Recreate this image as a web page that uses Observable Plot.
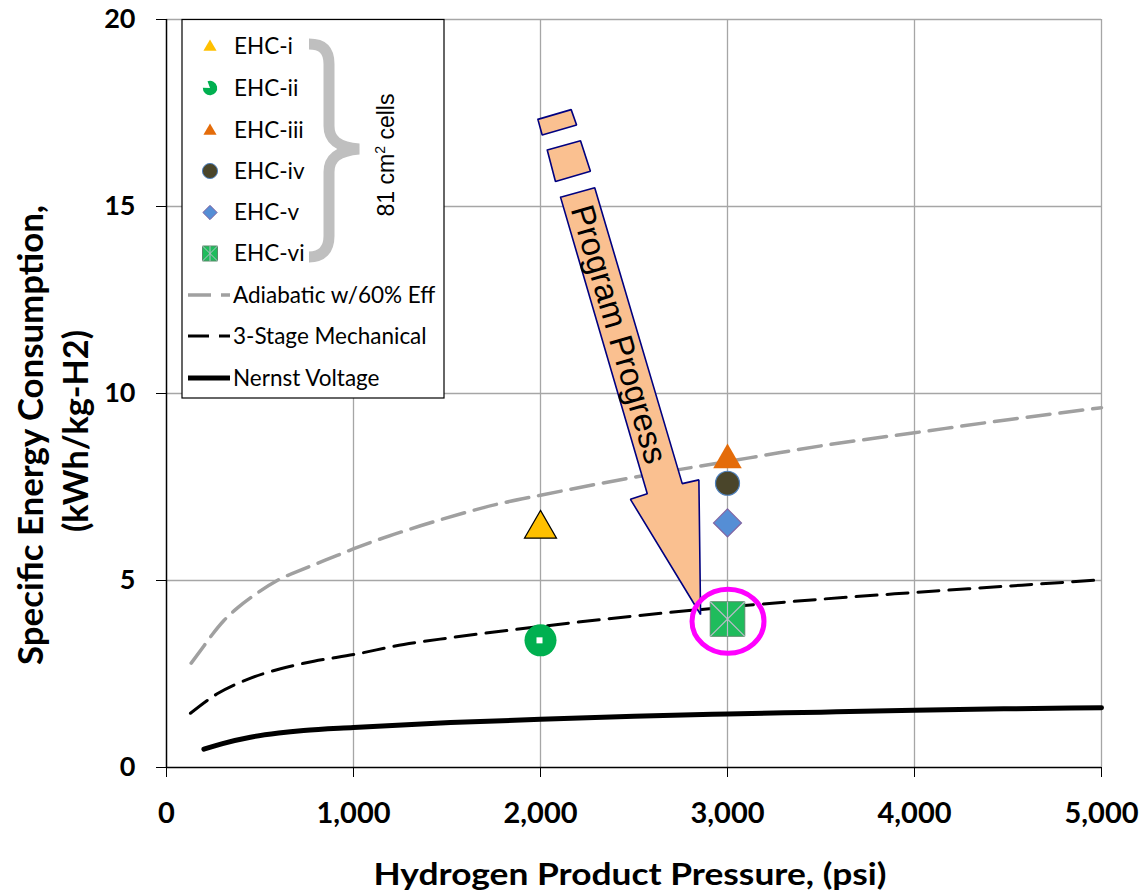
<!DOCTYPE html>
<html><head><meta charset="utf-8">
<script src="https://cdn.jsdelivr.net/npm/d3@7"></script>
<script src="https://cdn.jsdelivr.net/npm/@observablehq/plot@0.6"></script>
<style>
body{margin:0;background:#fff;}
#chart svg{display:block;}
</style></head><body><div id="chart"></div>
<script>
// ---- data ----
const xTicks = [0, 1000, 2000, 3000, 4000, 5000];
const yTicks = [0, 5, 10, 15, 20];

const adiabaticP = [132, 200, 244, 307, 378, 467, 592, 734, 913, 1002, 1269, 1449, 1786, 2000, 2500, 3000, 3283, 3500, 4000, 4500, 5000];
const adiabaticE = [2.79, 3.25, 3.55, 3.93, 4.26, 4.6, 5.0, 5.31, 5.67, 5.85, 6.32, 6.6, 7.06, 7.28, 7.76, 8.18, 8.42, 8.6, 8.95, 9.3, 9.62];

const mechanicalP = [128, 271, 440, 610, 788, 1000, 1269, 1519, 2000, 2500, 3000, 3500, 4000, 4500, 5000];
const mechanicalE = [1.45, 1.97, 2.37, 2.64, 2.84, 3.02, 3.29, 3.47, 3.77, 4.05, 4.29, 4.5, 4.68, 4.85, 5.02];

const nernstP = [200, 300, 449, 600, 733, 1000, 1519, 2000, 2500, 3000, 3500, 4000, 4500, 5000];
const nernstE = [0.49, 0.64, 0.81, 0.92, 0.99, 1.07, 1.2, 1.29, 1.37, 1.43, 1.48, 1.53, 1.57, 1.6];

const cells = ["EHC-i", "EHC-ii", "EHC-iii", "EHC-iv", "EHC-v", "EHC-vi"];
const cellPressure = [2000, 2000, 3000, 3000, 3000, 3000];
const cellEnergy = [6.38, 3.4, 8.22, 7.6, 6.54, 3.97];

const seriesNames = ["Adiabatic w/60% Eff", "3-Stage Mechanical", "Nernst Voltage"];

// annotation: "Program Progress" block arrow (data coordinates)
const arrowX = [2107, 2290, 2758, 2847, 2856, 2481, 2571, 2107];
const arrowY = [15.25, 15.5, 7.59, 7.69, 4.09, 7.17, 7.32, 15.25];
const dashId = [1, 1, 1, 1, 1, 2, 2, 2, 2, 2];
const dashX = [1986, 2164, 2193, 2009, 1986, 2036, 2214, 2267, 2080, 2036];
const dashY = [17.33, 17.59, 17.18, 16.91, 17.33, 16.51, 16.76, 15.94, 15.67, 16.51];
const arrowLabel = "Program Progress";
const arrowLabelX = 2417, arrowLabelY = 11.58;
const highlightX = 3000, highlightY = 3.9;

// ---- tables ----
const zip = (xs, ys) => xs.map((x, i) => ({x, y: ys[i]}));
const adiabatic = zip(adiabaticP, adiabaticE);
const mechanical = zip(mechanicalP, mechanicalE);
const nernst = zip(nernstP, nernstE);
const points = cells.map((c, i) => ({name: c, x: cellPressure[i], y: cellEnergy[i]}));
const arrow = zip(arrowX, arrowY);
const dashes = dashX.map((x, i) => ({id: dashId[i], x, y: dashY[i]}));

// marker styles
const excelStar = {
  draw(ctx, size) {
    const h = Math.sqrt(size) / 2;
    ctx.moveTo(-h, -h); ctx.lineTo(h, h);
    ctx.moveTo(h, -h); ctx.lineTo(-h, h);
    ctx.moveTo(0, -h); ctx.lineTo(0, h);
  }
};
const style = {
  "EHC-i":   {symbol: "triangle", fill: "#FFC000", stroke: "#000", strokeWidth: 1.2, r: 11.9},
  "EHC-ii":  {symbol: "circle",   fill: "#00B050", stroke: "none", strokeWidth: 0, r: 16},
  "EHC-iii": {symbol: "triangle", fill: "#E46C0A", stroke: "none", strokeWidth: 0, r: 10.6},
  "EHC-iv":  {symbol: "circle",   fill: "#4A452A", stroke: "#4F81BD", strokeWidth: 1.2, r: 12},
  "EHC-v":   {symbol: "diamond2", fill: "#558ED5", stroke: "#8064A2", strokeWidth: 1.2, r: 12.6},
  "EHC-vi":  {symbol: "square",   fill: "#1FBC5C", stroke: "#5A8A6A", strokeWidth: 1, r: 19.5}
};

const pointMarks = points.map(p => {
  const s = style[p.name];
  return Plot.dot([p], {x: "x", y: "y", symbol: s.symbol, fill: s.fill, stroke: s.stroke, strokeWidth: s.strokeWidth, r: s.r});
});

const plot = Plot.plot({
  width: 1144, height: 895,
  marginLeft: 166, marginRight: 43, marginTop: 19, marginBottom: 128,
  x: {domain: [0, 5000]},
  y: {domain: [0, 20]},
  style: {fontFamily: "Lato, sans-serif", background: "#fff", color: "#000", overflow: "visible"},
  marks: [
    Plot.gridX({ticks: xTicks.slice(1), stroke: "#A6A6A6", strokeOpacity: 1, strokeWidth: 1.3}),
    Plot.gridY({ticks: yTicks.slice(1), stroke: "#A6A6A6", strokeOpacity: 1, strokeWidth: 1.3}),
    Plot.ruleX([0], {stroke: "#000", strokeWidth: 1.5}),
    Plot.ruleY([0], {stroke: "#000", strokeWidth: 1.5}),
    Plot.axisX({ticks: xTicks, tickFormat: d3.format(","), tickSize: 10, tickPadding: 25, fontSize: 29, fontWeight: "bold", label: null}),
    Plot.axisY({ticks: yTicks, tickSize: 10, tickPadding: 21, fontSize: 27, fontWeight: "bold", label: null}),
    Plot.line(adiabatic, {x: "x", y: "y", stroke: "#A0A0A0", strokeWidth: 3.5, strokeDasharray: "23 10", curve: "monotone-x"}),
    Plot.line(mechanical, {x: "x", y: "y", stroke: "#000", strokeWidth: 3, strokeDasharray: "21 10", curve: "monotone-x"}),
    Plot.line(nernst, {x: "x", y: "y", stroke: "#000", strokeWidth: 5, curve: "monotone-x"}),
    Plot.line(arrow, {x: "x", y: "y", fill: "#FAC090", stroke: "#000080", strokeWidth: 1.6, strokeLinejoin: "miter"}),
    Plot.line(dashes, {x: "x", y: "y", z: "id", fill: "#FAC090", stroke: "#000080", strokeWidth: 1.6, strokeLinejoin: "miter"}),
    Plot.text([arrowLabel], {x: () => arrowLabelX, y: () => arrowLabelY, text: d => d, rotate: 73.6, fontSize: 33, fontFamily: "Liberation Sans, Arial, sans-serif", fill: "#000"}),
    ...pointMarks,
    Plot.dot([points[1]], {x: "x", y: "y", symbol: "square", r: 3.4, fill: "#fff", dx: -1}),
    Plot.dot([points[5]], {x: "x", y: "y", symbol: excelStar, r: 19.5, stroke: "#B8BCC8", strokeWidth: 1.2, fill: "none"})
  ]
});

document.getElementById("chart").appendChild(plot);

// ---- overlays: highlight ring, titles, legend ----
const svg = d3.select(plot);
const sx = plot.scale("x"), sy = plot.scale("y");

svg.append("ellipse")
  .attr("cx", sx.apply(highlightX) + 1).attr("cy", sy.apply(highlightY))
  .attr("rx", 36).attr("ry", 32)
  .attr("fill", "none").attr("stroke", "#FF00FF").attr("stroke-width", 5);

// axis titles
svg.append("text")
  .attr("x", 630).attr("y", 885)
  .attr("text-anchor", "middle")
  .attr("font-family", "Lato, sans-serif").attr("font-weight", "bold").attr("font-size", 31)
  .attr("textLength", 513).attr("lengthAdjust", "spacingAndGlyphs")
  .text("Hydrogen Product Pressure, (psi)");
svg.append("text")
  .attr("transform", "translate(43,435) rotate(-90)")
  .attr("text-anchor", "middle")
  .attr("font-family", "Lato, sans-serif").attr("font-weight", "bold").attr("font-size", 34)
  .attr("textLength", 460).attr("lengthAdjust", "spacingAndGlyphs")
  .text("Specific Energy Consumption,");
svg.append("text")
  .attr("transform", "translate(88,431) rotate(-90)")
  .attr("text-anchor", "middle")
  .attr("font-family", "Lato, sans-serif").attr("font-weight", "bold").attr("font-size", 34)
  .attr("textLength", 202).attr("lengthAdjust", "spacingAndGlyphs")
  .text("(kWh/kg-H2)");

// legend
const lg = svg.append("g").attr("text-anchor", "start");
lg.append("rect").attr("x", 182).attr("y", 19.5).attr("width", 262).attr("height", 378.5)
  .attr("fill", "#fff").attr("stroke", "#000").attr("stroke-width", 1.2);
const rowY = [46, 88, 130, 171, 212.5, 253.5, 295, 336, 378];
const mx = 210, tx = 234;
const legendSym = [
  {sym: d3.symbolTriangle, size: 75, fill: "#FFC000", stroke: "none"},
  {arc: true, fill: "#00B050"},
  {sym: d3.symbolTriangle, size: 75, fill: "#E46C0A", stroke: "none"},
  {sym: d3.symbolCircle, size: 180, fill: "#4A452A", stroke: "#4F81BD"},
  {sym: d3.symbolDiamond2, size: 130, fill: "#558ED5", stroke: "#8064A2"},
  {sym: d3.symbolSquare, size: 225, fill: "#1FBC5C", stroke: "#5A8A6A", star: true}
];
cells.forEach((c, i) => {
  const s = legendSym[i];
  const g = lg.append("g").attr("transform", `translate(${mx},${rowY[i] + (i === 0 || i === 2 ? 1 : 0)})`);
  if (s.arc) {
    g.append("path").attr("d", d3.arc()({innerRadius: 0, outerRadius: 7.2, startAngle: 0, endAngle: 1.62 * Math.PI}))
      .attr("fill", s.fill).attr("transform", "rotate(-20)");
  } else {
    g.append("path").attr("d", d3.symbol(s.sym, s.size)()).attr("fill", s.fill).attr("stroke", s.stroke).attr("stroke-width", 1);
    if (s.star) {
      g.append("path").attr("d", "M-7.5,-7.5L7.5,7.5M7.5,-7.5L-7.5,7.5M0,-7.5L0,7.5").attr("stroke", "#B8BCC8").attr("stroke-width", 1);
    }
  }
  lg.append("text").attr("x", tx).attr("y", rowY[i]).attr("dy", "0.35em").attr("text-anchor", "start")
    .attr("font-family", "Lato, sans-serif").attr("font-size", 22.5).text(c);
});
const lineStyles = [
  {stroke: "#A0A0A0", dash: "23 10", w: 3.5},
  {stroke: "#000", dash: "21 10", w: 3},
  {stroke: "#000", dash: null, w: 5}
];
seriesNames.forEach((n, j) => {
  const y = rowY[6 + j];
  const ln = lg.append("line").attr("x1", 188).attr("x2", 230).attr("y1", y).attr("y2", y)
    .attr("stroke", lineStyles[j].stroke).attr("stroke-width", lineStyles[j].w);
  if (lineStyles[j].dash) ln.attr("stroke-dasharray", lineStyles[j].dash);
  lg.append("text").attr("x", 233).attr("y", y).attr("dy", "0.35em").attr("text-anchor", "start")
    .attr("font-family", "Lato, sans-serif").attr("font-size", 22.5).text(n);
});
// brace
lg.append("path")
  .attr("d", "M309,44 C322,44 329,50 329,64 L329,126 C329,140 338,147 359,149 C338,151 329,158 329,172 L329,236 C329,250 322,257 309,257")
  .attr("fill", "none").attr("stroke", "#BFBFBF").attr("stroke-width", 11);
const bt = lg.append("text").attr("transform", "translate(394,155) rotate(-90)")
  .attr("text-anchor", "middle").attr("font-family", "Liberation Sans, Arial, sans-serif").attr("font-size", 23);
bt.append("tspan").text("81 cm");
bt.append("tspan").attr("font-size", 14).attr("dy", -9).text("2");
bt.append("tspan").attr("dy", 9).text(" cells");
</script>
</body></html>
